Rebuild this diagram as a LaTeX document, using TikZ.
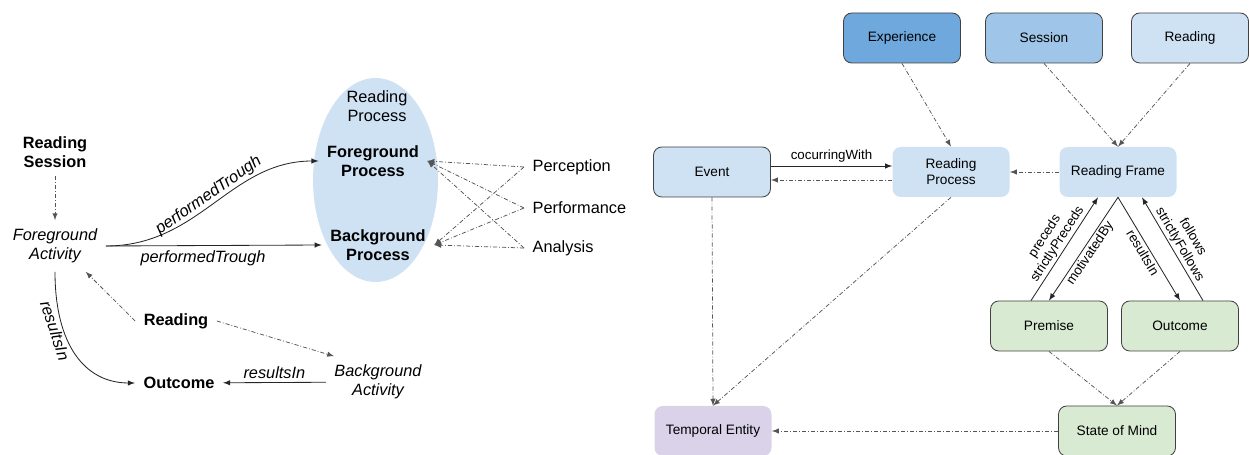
\documentclass[tikz,border=0pt]{standalone}
\usepackage{fontspec}
\setmainfont{Liberation Sans}
\usetikzlibrary{shapes, calc}

\definecolor{darkblue}{HTML}{6FA8DC}
\definecolor{midblue}{HTML}{9FC5E8}
\definecolor{lightblue}{HTML}{CFE2F3}
\definecolor{lightgreen}{HTML}{D9EAD3}
\definecolor{lightpurple}{HTML}{D9D2E9}
\definecolor{linegray}{HTML}{555555}

\begin{document}
\begin{tikzpicture}[x=0.6pt, y=-0.6pt, >=latex,
	word/.style={inner sep=5pt, align=center, font=\fontsize{9.8}{11}\selectfont},
	box/.style={rectangle, rounded corners=5pt, minimum width=70.2pt,
		minimum height=30pt, inner sep=0pt, align=center,
		font=\fontsize{8.2}{9.6}\selectfont},
	framed/.style={draw=black!75, line width=0.5pt},
	link/.style={->, draw=black!85, line width=0.5pt},
	dashlink/.style={->, draw=linegray, line width=0.45pt,
		dash pattern=on 2.5pt off 1.2pt on 0.5pt off 1.2pt},
	tag/.style={inner sep=1pt, align=center, font=\fontsize{8}{9}\selectfont}
]
	\useasboundingbox (0,0) rectangle (1250,455);

	% left: activities and processes
	\node[ellipse, fill=lightblue, minimum width=75pt, minimum height=122.4pt,
		inner sep=0pt] (readproc) at (375.5,180) {};
	\node[word] (rptitle) at (377,106) {Reading\\Process};
	\node[word, font=\fontsize{9.8}{11}\selectfont\bfseries] (fgproc) at (373,161)
		{Foreground\\Process};
	\node[word, font=\fontsize{9.8}{11}\selectfont\bfseries] (bgproc) at (378,245)
		{Background\\Process};

	\node[word, font=\fontsize{9.8}{11}\selectfont\bfseries] (rsess) at (55,152)
		{Reading\\Session};
	\node[word, font=\fontsize{9.8}{11.4}\selectfont\itshape] (fgact) at (55,246)
		{Foreground\\Activity};
	\node[word, font=\fontsize{9.8}{11}\selectfont\bfseries] (reading) at (176,321)
		{Reading};
	\node[word, font=\fontsize{9.8}{11}\selectfont\bfseries] (outcome) at (179,383)
		{Outcome};
	\node[word, font=\fontsize{9.8}{11.4}\selectfont\itshape] (bgact) at (378,382)
		{Background\\Activity};

	\node[word, anchor=west] (perc) at (524,167) {Perception};
	\node[word, anchor=west] (perf) at (524,208) {Performance};
	\node[word, anchor=west] (anal) at (524,248) {Analysis};

	\draw[dashlink] (rsess) -- (fgact);
	\draw[dashlink] (reading.west) -- (fgact.-40);
	\draw[dashlink] (reading.east) -- ([xshift=5pt]bgact.north west);
	\draw[link] (bgact) -- (outcome)
		node[midway, above, word, inner sep=2pt, font=\fontsize{9.8}{11}\selectfont\itshape] {resultsIn};
	\draw[link] (fgact.east) .. controls (200,246) and (230,161) .. (fgproc.west)
		node[midway, sloped, above, word, inner sep=1pt, font=\fontsize{9.8}{11}\selectfont\itshape]
		{performedTrough};
	\draw[link] (fgact.east) -- (bgproc.west)
		node[pos=0.45, below, word, inner sep=3pt, font=\fontsize{9.8}{11}\selectfont\itshape]
		{performedTrough};
	\draw[link] (fgact.south) .. controls (55,345) and (85,383) .. (outcome.west)
		node[pos=0.3, sloped, below, word, inner sep=1pt, font=\fontsize{9.8}{11}\selectfont\itshape]
		{resultsIn};

	\foreach \src in {perc, perf, anal} {
		\draw[dashlink] (\src.west) -- (fgproc.east);
		\draw[dashlink] (\src.west) -- (bgproc.east);
	}

	% right: frame model
	\node[box, framed, fill=darkblue] (exper) at (902,38) {Experience};
	\node[box, framed, fill=midblue] (sess) at (1044,38) {Session};
	\node[box, framed, fill=lightblue] (readg) at (1190,38) {Reading};
	\node[box, framed, fill=lightblue] (event) at (712,172) {Event};
	\node[box, fill=lightblue] (rproc) at (951,172) {Reading\\Process};
	\node[box, fill=lightblue] (rframe) at (1118,172) {Reading Frame};
	\node[box, framed, fill=lightgreen] (premise) at (1049,326) {Premise};
	\node[box, framed, fill=lightgreen] (outc) at (1180,326) {Outcome};
	\node[box, framed, fill=lightgreen] (mind) at (1117,431) {State of Mind};
	\node[box, fill=lightpurple] (tempent) at (713,431) {Temporal Entity};

	\draw[dashlink] (exper.south) -- (rproc.north);
	\draw[dashlink] (sess.south) -- (rframe.north);
	\draw[dashlink] (readg.south) -- (rframe.north);
	\draw[dashlink] (rframe.west) -- (rproc.east);
	\draw[link] ([yshift=3.6pt]event.east) -- ([yshift=3.6pt]rproc.west)
		node[midway, above, tag, inner sep=2pt] {cocurringWith};
	\draw[dashlink] ([yshift=-4.8pt]rproc.west) -- ([yshift=-4.8pt]event.east);
	\draw[dashlink] (event.south) -- (tempent.north);
	\draw[dashlink] (rproc.south) -- (tempent.north);
	\draw[dashlink] (premise.south) -- (mind.north);
	\draw[dashlink] (outc.south) -- (mind.north);
	\draw[dashlink] (mind.west) -- (tempent.east);

	\draw[link] ([xshift=-10.8pt]premise.north) -- ([xshift=-12pt]rframe.south)
		node[midway, sloped, above, tag] {preceds\\strictlyPreceds};
	\draw[link] (rframe.south) -- (premise.north)
		node[midway, sloped, below, tag] {motivatedBy};
	\draw[link] (rframe.south) -- (outc.north)
		node[midway, sloped, below, tag] {resultsIn};
	\draw[link] ([xshift=13.8pt]outc.north) -- ([xshift=14.4pt]rframe.south)
		node[midway, sloped, above, tag] {follows\\strictlyFollows};
\end{tikzpicture}
\end{document}
